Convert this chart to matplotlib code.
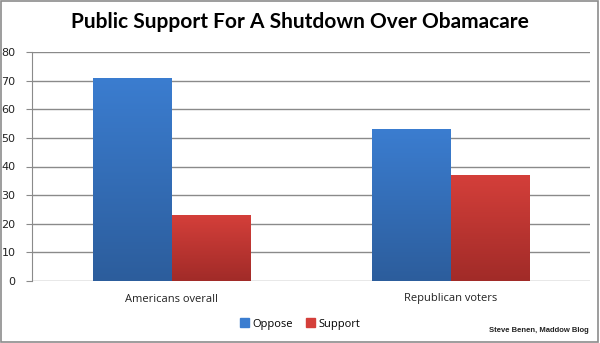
import numpy as np
import matplotlib
matplotlib.use("Agg")
import matplotlib.pyplot as plt
from matplotlib.colors import LinearSegmentedColormap
from matplotlib.patches import Rectangle

categories = ["Americans overall", "Republican voters"]
series = ["Oppose", "Support"]
oppose = [71, 53]
support = [23, 37]
yticks = [0, 10, 20, 30, 40, 50, 60, 70, 80]

# gradient colours (top, bottom) per series
grad = {
    "Oppose": ("#3b7dd0", "#2c5d9c"),
    "Support": ("#d43f3a", "#a12b28"),
}

fig = plt.figure(figsize=(6.0, 3.43), dpi=100)
fig.patch.set_facecolor("white")
# outer border
fig.add_artist(Rectangle((0.002, 0.003), 0.995, 0.994, transform=fig.transFigure,
                         fill=False, edgecolor="#8c8c8c", linewidth=1.2))

ax = fig.add_axes([32 / 600, 1 - 281 / 343, 558 / 600, 229 / 343])
ax.set_xlim(-0.5, 1.5)
ax.set_ylim(0, 80)

x = np.arange(len(categories))
w = 0.283
bars_o = ax.bar(x - w / 2, oppose, w, color="none", edgecolor="none", zorder=3)
bars_s = ax.bar(x + w / 2, support, w, color="none", edgecolor="none", zorder=3)

grad_img = np.linspace(0, 1, 256).reshape(-1, 1)
for name, bars in (("Oppose", bars_o), ("Support", bars_s)):
    top, bottom = grad[name]
    cmap = LinearSegmentedColormap.from_list(name, [bottom, top])
    for b in bars:
        x0, y0 = b.get_x(), b.get_y()
        im = ax.imshow(grad_img, cmap=cmap, origin="lower", aspect="auto",
                       extent=[x0, x0 + b.get_width(), y0, y0 + b.get_height()],
                       zorder=3)
        im.set_clip_path(b)

ax.set_yticks(yticks)
ax.yaxis.grid(True, color="#8a8a8a", linewidth=1.0)
ax.set_axisbelow(True)
ax.set_xticks(x)
ax.set_xticklabels(categories, fontsize=8, color="#222222", family="Open Sans")
ax.tick_params(axis="x", length=0, pad=9)
ax.tick_params(axis="y", length=4, direction="out", labelsize=8, colors="#8a8a8a",
               labelcolor="#222222", pad=8)
for s in ("top", "right", "bottom"):
    ax.spines[s].set_visible(False)
ax.spines["left"].set_color("#8a8a8a")
ax.set_xlim(-0.5, 1.5)

fig.text(0.5, 1 - 22 / 343, "Public Support For A Shutdown Over Obamacare",
         ha="center", va="center", fontsize=15, fontweight="bold", family="Lato")

# legend
handles = [Rectangle((0, 0), 1, 1, color=grad[s][0]) for s in series]
fig.legend(handles, series, loc="center", bbox_to_anchor=(0.5, 1 - 324 / 343),
           ncol=2, frameon=False, handlelength=0.8, handleheight=0.8,
           handletextpad=0.3, columnspacing=1.2, prop={"family": "Open Sans", "size": 8})

fig.text(0.982, 1 - 331 / 343, "Steve Benen, Maddow Blog", ha="right", va="center",
         fontsize=5.5, fontweight="bold", family="Liberation Sans", color="#222222")

fig.savefig("out.png", dpi=100)
